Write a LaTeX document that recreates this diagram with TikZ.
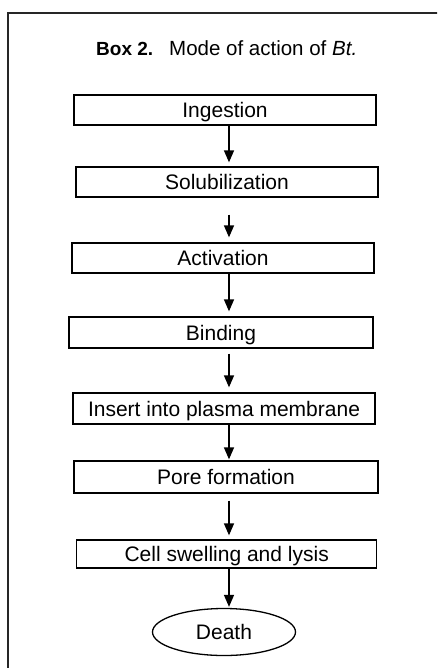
\documentclass[tikz,border=0pt]{standalone}
\usepackage{fontspec}
\setmainfont{Liberation Sans}
\usetikzlibrary{arrows.meta,shapes.geometric}

\begin{document}
\begin{tikzpicture}[x=1pt, y=-1pt,
		stage/.style={draw, line width=1.3pt, minimum height=30pt, minimum width=302pt,
			inner sep=0pt, text height=15pt, text depth=0pt, font=\fontsize{21}{24}\selectfont},
		endpoint/.style={draw, ellipse, line width=1.3pt, minimum width=143pt, minimum height=47pt,
			inner sep=0pt, text height=15pt, text depth=0pt, font=\fontsize{21}{24}\selectfont},
		flow/.style={line width=1.5pt, -{Triangle[length=12pt, width=10pt]}}]
		\useasboundingbox (0, 0) rectangle (437, 668);
		\clip (0, 0) rectangle (437, 668);
		% frame of the box, runs off the page on the right and bottom
		\draw[line width=2pt, black!85] (8, 13) rectangle (470, 700);
		
		\node[anchor=base west, inner sep=0pt, font=\fontsize{19}{22}\selectfont\bfseries] (boxno) at (96, 56) {Box 2.};
		\node[anchor=base west, inner sep=0pt, font=\fontsize{20.5}{23}\selectfont] (caption) at (169, 56) {Mode of action of \textit{Bt.}};
		
		\node[stage] (ingest) at (225, 110) {Ingestion};
		\node[stage] (solub) at (227, 182) {Solubilization};
		\node[stage] (activ) at (223, 258) {Activation};
		\node[stage, minimum width=304pt, minimum height=31pt] (bind) at (221, 332.5) {Binding};
		\node[stage, minimum height=31pt] (insert) at (224, 408.5) {Insert into plasma membrane};
		\node[stage, minimum width=304pt, minimum height=32pt] (pore) at (226, 477) {Pore formation};
		\node[stage, minimum width=300pt, minimum height=28pt] (lysis) at (226.7, 554) {Cell swelling and lysis};
		\node[endpoint] (death) at (224, 632) {Death};
		
		\coordinate (ax) at (229, 0);
		\draw[flow, shorten >=4pt] (ax |- ingest.south) -- (ax |- solub.north);
		\draw[flow, shorten <=17pt, shorten >=5pt] (ax |- solub.south) -- (ax |- activ.north);
		\draw[flow, shorten >=5pt] (ax |- activ.south) -- (ax |- bind.north);
		\draw[flow, shorten <=5pt, shorten >=5pt] (ax |- bind.south) -- (ax |- insert.north);
		\draw[flow, shorten >=1pt] (ax |- insert.south) -- (ax |- pore.north);
		\draw[flow, shorten <=7pt, shorten >=4pt] (ax |- pore.south) -- (ax |- lysis.north);
		\draw[flow, shorten >=1pt] (ax |- lysis.south) -- (ax |- death.north);
\end{tikzpicture}
\end{document}
